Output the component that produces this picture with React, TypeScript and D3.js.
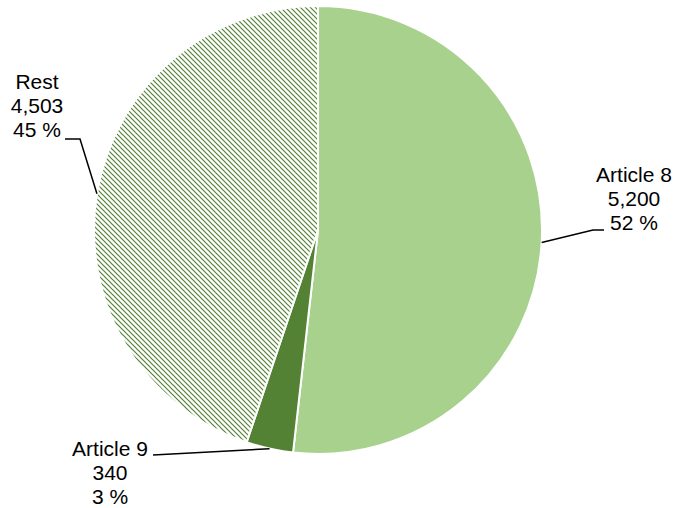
import { arc as Arc, format, pie as Pie, PieArcDatum } from "d3";
import React from "react";

const categories = ["Article 8", "Article 9", "Rest"];
const values = [5200, 340, 4503];
const fills = ["#a9d18e", "#548235", "url(#restHatch)"];

// leader line end (elbow, end) and text block position, per slice
const leaderEnds: [number, number][][] = [
  [[593, 230], [604, 230]],
  [[153, 455], [153, 455]],
  [[80, 139], [65, 139]],
];
const labelPos: [number, number][] = [
  [634, 182],
  [110, 456],
  [37, 89],
];

interface Slice {
  name: string;
  value: number;
}

const width = 674;
const height = 508;
const cx = 318;
const cy = 230;
const radius = 224;

const App: React.FC = () => {
  const data: Slice[] = categories.map((name, i) => ({ name, value: values[i] }));
  const total = values.reduce((a, b) => a + b, 0);

  const pie = Pie<Slice>()
    .value((d) => d.value)
    .sort(null);
  const arcs = pie(data);

  const arc = Arc<PieArcDatum<Slice>>().innerRadius(0).outerRadius(radius);
  const edge = Arc<PieArcDatum<Slice>>().innerRadius(radius).outerRadius(radius);
  const fmt = format(",");

  return (
    <svg
      width={width}
      height={height}
      style={{ position: "absolute", left: 0, top: 0 }}
      fontFamily="'Liberation Sans', Arial, sans-serif"
    >
      <defs>
        <pattern id="restHatch" width={5} height={5} patternUnits="userSpaceOnUse">
          <rect width={5} height={5} fill="#fff" />
          <path d="M-1,-1 L6,6 M-1,4 L1,6 M4,-1 L6,1" stroke="#548235" strokeWidth={1.2} />
        </pattern>
      </defs>
      <g transform={`translate(${cx},${cy})`}>
        {arcs.map((d, i) => (
          <path key={d.data.name} d={arc(d) as string} fill={fills[i]} stroke="#fff" strokeWidth={2} />
        ))}
      </g>
      {arcs.map((d, i) => {
        const [sx, sy] = edge.centroid(d);
        const [e1, e2] = leaderEnds[i];
        return (
          <polyline
            key={`l-${d.data.name}`}
            points={`${cx + sx},${cy + sy} ${e1[0]},${e1[1]} ${e2[0]},${e2[1]}`}
            fill="none"
            stroke="#000"
            strokeWidth={1.5}
          />
        );
      })}
      {arcs.map((d, i) => {
        const [lx, ly] = labelPos[i];
        const lines = [d.data.name, fmt(d.data.value), `${Math.round((d.data.value / total) * 100)} %`];
        return (
          <text key={`t-${d.data.name}`} x={lx} y={ly} textAnchor="middle" fontSize={21} fill="#000">
            {lines.map((t, j) => (
              <tspan key={j} x={lx} dy={j === 0 ? 0 : 24}>
                {t}
              </tspan>
            ))}
          </text>
        );
      })}
    </svg>
  );
};

export default App;
